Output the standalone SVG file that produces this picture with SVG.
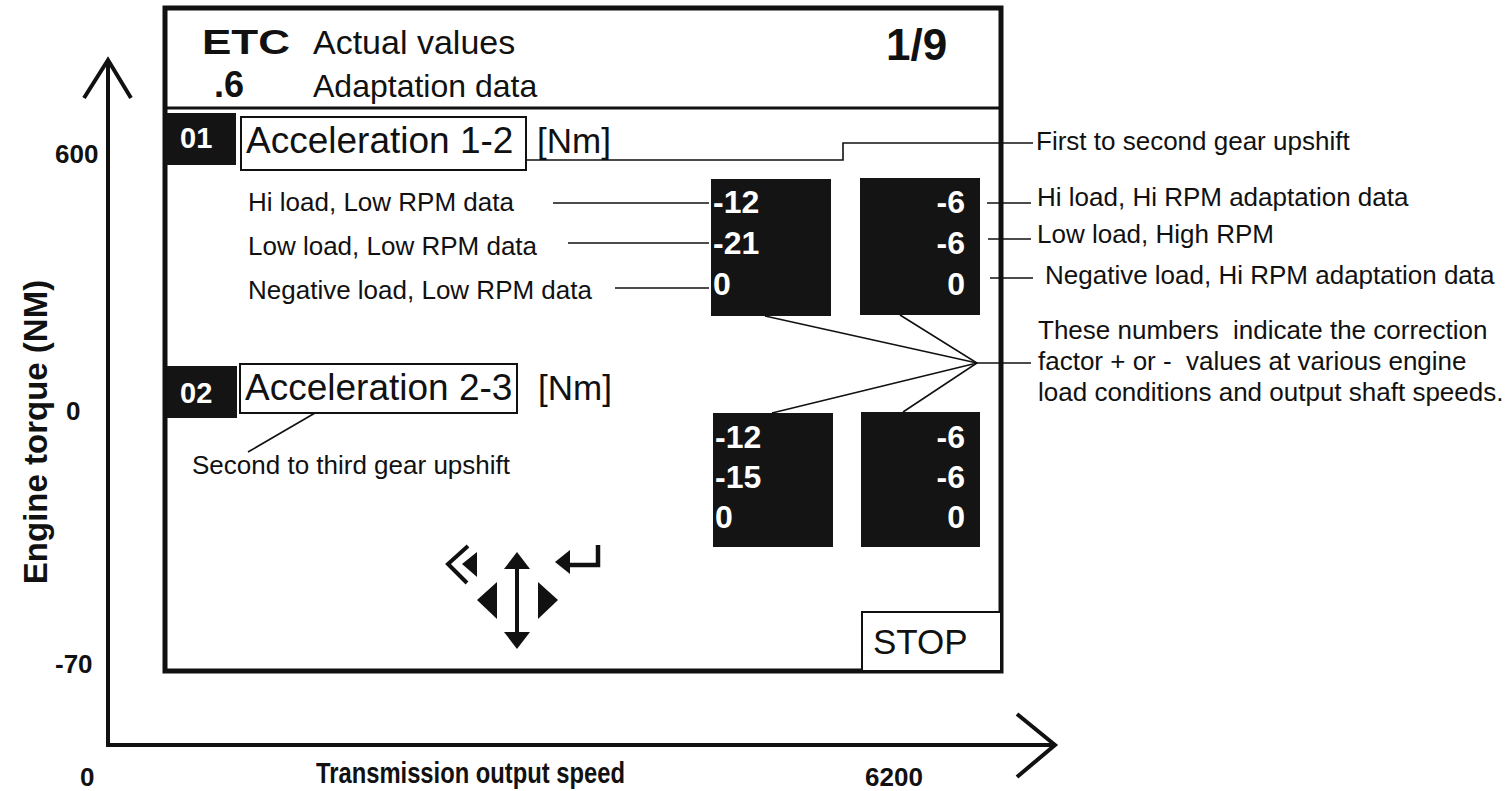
<svg xmlns="http://www.w3.org/2000/svg" width="1509" height="791" viewBox="0 0 1509 791">
<style>
text{font-family:"Liberation Sans",Arial,sans-serif;fill:#111}
.b{font-weight:bold}
.w{fill:#fff;font-weight:bold}
.lbl{font-size:26px}
.num{font-size:32px}
.ln{stroke:#111;stroke-width:1.6;fill:none}
.ax{stroke:#111;stroke-width:4;fill:none;stroke-linejoin:miter}
.blk{fill:#141414}
</style>
<rect width="1509" height="791" fill="#fff"/>
<g id="axes">
<polyline class="ax" points="108,60 108,745 1053,745"/>
<polyline class="ax" points="84,98 108,60 131,98"/>
<polyline class="ax" points="1017,714 1055,745 1017,777"/>
<text class="b" x="55" y="163" font-size="26">600</text>
<text class="b" x="66" y="420" font-size="26">0</text>
<text class="b" x="55" y="673" font-size="26">-70</text>
<text class="b" x="80" y="786" font-size="26">0</text>
<text class="b" x="316" y="783" font-size="29" textLength="309" lengthAdjust="spacingAndGlyphs">Transmission output speed</text>
<text class="b" x="865" y="786" font-size="26">6200</text>
<text class="b" font-size="33" transform="translate(47,432) rotate(-90)" text-anchor="middle">Engine torque (NM)</text>
</g>
<g id="screen">
<rect x="165" y="8" width="836" height="663" fill="none" stroke="#111" stroke-width="5"/>
<line x1="165" y1="108" x2="1001" y2="108" stroke="#111" stroke-width="3"/>
<text class="b" x="202" y="54" font-size="35" textLength="88" lengthAdjust="spacingAndGlyphs">ETC</text>
<text x="313" y="54" font-size="34">Actual values</text>
<text class="b" x="886" y="60" font-size="44">1/9</text>
<text class="b" x="214" y="97" font-size="36">.6</text>
<text x="313" y="97" font-size="32">Adaptation data</text>
</g>
<g id="row01">
<rect class="blk" x="166" y="113" width="70" height="52"/>
<text class="w" x="180" y="148" font-size="29">01</text>
<rect x="241" y="117" width="285" height="53" fill="none" stroke="#111" stroke-width="2"/>
<text x="246" y="153" font-size="37">Acceleration 1-2</text>
<text x="537" y="153" font-size="35">[Nm]</text>
</g>
<g id="row02">
<rect class="blk" x="167" y="366" width="70" height="52"/>
<text class="w" x="180" y="403" font-size="29">02</text>
<rect x="240" y="364" width="277" height="49" fill="none" stroke="#111" stroke-width="2"/>
<text x="245" y="400" font-size="37">Acceleration 2-3</text>
<text x="538" y="400" font-size="35">[Nm]</text>
<text class="lbl" x="192" y="474">Second to third gear upshift</text>
</g>
<g id="labels-left">
<text class="lbl" x="248" y="211">Hi load, Low RPM data</text>
<text class="lbl" x="248" y="255">Low load, Low RPM data</text>
<text class="lbl" x="248" y="299">Negative load, Low RPM data</text>
</g>
<g id="box-tl">
<rect class="blk" x="711" y="179" width="120" height="137"/>
<text class="w num" x="713" y="213">-12</text>
<text class="w num" x="713" y="254">-21</text>
<text class="w num" x="713" y="295">0</text>
</g>
<g id="box-tr">
<rect class="blk" x="860" y="178" width="120" height="137"/>
<text class="w num" x="965" y="213" text-anchor="end">-6</text>
<text class="w num" x="965" y="254" text-anchor="end">-6</text>
<text class="w num" x="965" y="295" text-anchor="end">0</text>
</g>
<g id="box-bl">
<rect class="blk" x="713" y="413" width="120" height="134"/>
<text class="w num" x="715" y="448">-12</text>
<text class="w num" x="715" y="488">-15</text>
<text class="w num" x="715" y="528">0</text>
</g>
<g id="box-br">
<rect class="blk" x="861" y="412" width="119" height="135"/>
<text class="w num" x="965" y="448" text-anchor="end">-6</text>
<text class="w num" x="965" y="488" text-anchor="end">-6</text>
<text class="w num" x="965" y="528" text-anchor="end">0</text>
</g>
<g id="labels-right">
<text class="lbl" x="1036" y="150">First to second gear upshift</text>
<text class="lbl" x="1037" y="206">Hi load, Hi RPM adaptation data</text>
<text class="lbl" x="1037" y="243">Low load, High RPM</text>
<text class="lbl" x="1045" y="284">Negative load, Hi RPM adaptation data</text>
<text class="lbl" x="1038" y="339" xml:space="preserve">These numbers  indicate the correction</text>
<text class="lbl" x="1038" y="370" xml:space="preserve">factor + or -  values at various engine</text>
<text class="lbl" x="1038" y="401">load conditions and output shaft speeds.</text>
</g>
<g id="stop">
<rect x="862" y="612" width="139" height="59" fill="#fff" stroke="#111" stroke-width="2"/>
<text x="873" y="654" font-size="35">STOP</text>
</g>
<g id="nav-icons">
<polyline points="468,546 448,564 467,583" fill="none" stroke="#111" stroke-width="4"/>
<polygon points="462,564 477,552 477,577" fill="#111"/>
<line x1="517" y1="566" x2="517" y2="635" stroke="#111" stroke-width="4"/>
<polygon points="517,552 504,569 530,569" fill="#111"/>
<polygon points="517,649 504,632 530,632" fill="#111"/>
<polygon points="477,600 497,582 497,619" fill="#111"/>
<polygon points="558,600 538,582 538,619" fill="#111"/>
<polyline points="598,545 598,565 568,565" fill="none" stroke="#111" stroke-width="4.5"/>
<polygon points="555,562 570,550 570,574" fill="#111"/>
</g>
<g id="connectors">
<polyline class="ln" points="526,160 843,160 843,143 1033,143"/>
<line class="ln" x1="553" y1="203" x2="709" y2="203"/>
<line class="ln" x1="568" y1="243" x2="709" y2="243"/>
<line class="ln" x1="615" y1="288" x2="709" y2="288"/>
<line class="ln" x1="987" y1="203" x2="1031" y2="203"/>
<line class="ln" x1="988" y1="239" x2="1031" y2="239"/>
<line class="ln" x1="990" y1="278" x2="1033" y2="278"/>
<polyline class="ln" points="765,316 977,363 772,413"/>
<polyline class="ln" points="900,315 977,363 903,412"/>
<line class="ln" x1="977" y1="363" x2="1031" y2="363"/>
<line class="ln" x1="315" y1="413" x2="248" y2="452"/>
</g>
</svg>
